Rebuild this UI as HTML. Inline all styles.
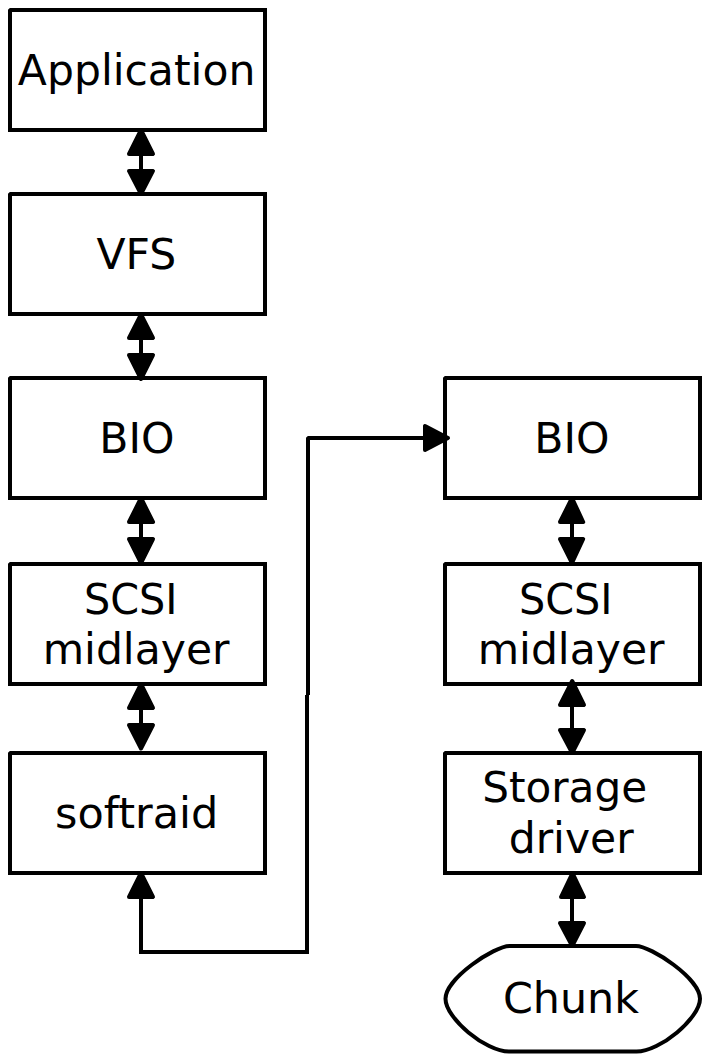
<!DOCTYPE html>
<html>
<head>
<meta charset="utf-8">
<title>softraid I/O path</title>
<style>
  html, body { margin: 0; padding: 0; background: #ffffff; }
  body { width: 710px; height: 1062px; overflow: hidden; }
  svg { display: block; }
  .box { fill: #ffffff; stroke: #000000; stroke-width: 4; stroke-linejoin: miter; }
  .ln { fill: none; stroke: #000000; stroke-width: 4; stroke-linejoin: round; stroke-linecap: butt; }
  .chip { fill: #ffffff; stroke: none; }
  .ah { fill: #000000; stroke: #000000; stroke-width: 4; stroke-linejoin: round; }
  text { font-family: "DejaVu Sans", "Liberation Sans", sans-serif; font-size: 42.5px; fill: #000000; text-anchor: middle; }
</style>
</head>
<body>
<svg width="710" height="1062" viewBox="0 0 710 1062">
  <rect x="0" y="0" width="710" height="1062" fill="#ffffff"/>

  <!-- left column boxes -->
  <rect class="box" x="10" y="10" width="255" height="120"/><path class="chip" d="M7.5,7.5 h2.8 l-2.8,2.8 Z"/>
  <rect class="box" x="10" y="194" width="255" height="120"/><path class="chip" d="M7.5,191.5 h2.8 l-2.8,2.8 Z"/>
  <rect class="box" x="10" y="378" width="255" height="120"/><path class="chip" d="M7.5,375.5 h2.8 l-2.8,2.8 Z"/>
  <rect class="box" x="10" y="564" width="255" height="120"/><path class="chip" d="M7.5,561.5 h2.8 l-2.8,2.8 Z"/>
  <rect class="box" x="10" y="753" width="255" height="120"/><path class="chip" d="M7.5,750.5 h2.8 l-2.8,2.8 Z"/>

  <!-- right column boxes -->
  <rect class="box" x="445" y="378" width="255" height="120"/><path class="chip" d="M442.5,375.5 h2.8 l-2.8,2.8 Z"/>
  <rect class="box" x="445" y="564" width="255" height="120"/><path class="chip" d="M442.5,561.5 h2.8 l-2.8,2.8 Z"/>
  <rect class="box" x="445" y="753" width="255" height="120"/><path class="chip" d="M442.5,750.5 h2.8 l-2.8,2.8 Z"/>

  <!-- chunk shape -->
  <path class="ln" style="fill:#ffffff" d="M509.5,946 L636,946 C651,946 700,978.4 700,998.7 C700,1018.1 660,1051.6 636.5,1051.6 L509,1051.6 C485.5,1051.6 445.5,1018.1 445.5,998.7 C445.5,978.4 494.5,946 509.5,946 Z"/>

  <!-- left column arrows -->
  <path class="ln" d="M141,150 L141,175"/>
  <path class="ah" d="M141,130 L153,154 L129,154 Z"/>
  <path class="ah" d="M141,194 L153,170.9 L129,170.9 Z"/>

  <path class="ln" d="M141,334 L141,359"/>
  <path class="ah" d="M141,314.5 L153,338 L129,338 Z"/>
  <path class="ah" d="M141,379 L153,355 L129,355 Z"/>

  <path class="ln" d="M141,518 L141,543"/>
  <path class="ah" d="M141,498 L153,522 L129,522 Z"/>
  <path class="ah" d="M141,563 L153,539 L129,539 Z"/>

  <path class="ln" d="M141,704 L141,729"/>
  <path class="ah" d="M141,684 L153,708 L129,708 Z"/>
  <path class="ah" d="M141,748.5 L153,725 L129,725 Z"/>

  <!-- right column arrows -->
  <path class="ln" d="M572,518 L572,543"/>
  <path class="ah" d="M572,498 L583.2,522 L560,522 Z"/>
  <path class="ah" d="M572,563 L583.2,539 L560,539 Z"/>

  <path class="ln" d="M572,701 L572,734"/>
  <path class="ah" d="M572.2,681 L584,705 L560,705 Z"/>
  <path class="ah" d="M572.2,753 L584,730 L560,730 Z"/>

  <path class="ln" d="M572,893 L572,927"/>
  <path class="ah" d="M572.5,873 L584,897 L561,897 Z"/>
  <path class="ah" d="M572.2,946 L584,923 L560,923 Z"/>

  <!-- connector softraid -> BIO -->
  <path class="ln" style="stroke-linejoin:miter" d="M141,893 L141,952 L307,952 L307,695"/>
  <path class="ln" style="stroke-linejoin:miter" d="M308,695 L308,438 L430,438"/><path class="chip" d="M305.5,435.5 h2.8 l-2.8,2.8 Z"/>
  <path class="ah" d="M141,873 L153,897 L129,897 Z"/>
  <path class="ah" d="M448,438 L425,426 L425,450 Z"/>

  <!-- labels -->
  <text x="136.6" y="85">Application</text>
  <text x="136.4" y="268.8">VFS</text>
  <text x="136.8" y="453">BIO</text>
  <text transform="translate(130.7 613.6) scale(0.974 1)" x="0" y="0">SCSI</text>
  <text x="136.1" y="664.3">midlayer</text>
  <text transform="translate(136.7 827.6) scale(1.0116 1)" x="0" y="0">softraid</text>

  <text x="571.8" y="453">BIO</text>
  <text transform="translate(565.7 613.6) scale(0.974 1)" x="0" y="0">SCSI</text>
  <text x="571.1" y="664.3">midlayer</text>
  <text transform="translate(564.65 802.4) scale(0.992 1)" x="0" y="0">Storage</text>
  <text x="571.2" y="853">driver</text>
  <text transform="translate(571 1013.3) scale(1.0075 1)" x="0" y="0">Chunk</text>
</svg>
</body>
</html>
